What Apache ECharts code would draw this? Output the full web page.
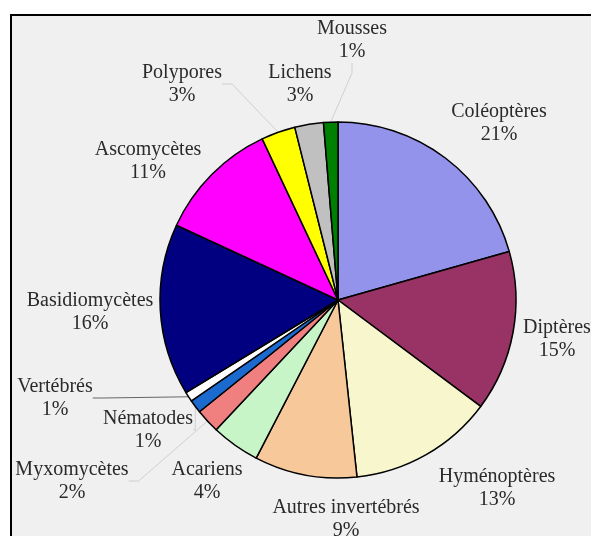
<!DOCTYPE html>
<html>
<head>
<meta charset="utf-8">
<script src="https://cdn.jsdelivr.net/npm/echarts@6/dist/echarts.min.js"></script>
<style>
html,body{margin:0;padding:0;background:#ffffff;}
#c{width:591px;height:536px;}
</style>
</head>
<body>
<div id="c"></div>
<script>
// Data (clockwise from 12 o'clock)
const categories = ['Coléoptères','Diptères','Hyménoptères','Autres invertébrés','Acariens','Myxomycètes','Nématodes','Vertébrés','Basidiomycètes','Ascomycètes','Polypores','Lichens','Mousses'];
const values = [20.6, 14.6, 13.1, 9.3, 4.4, 2.2, 1.2, 0.9, 15.6, 11.1, 3.1, 2.6, 1.3];

// Styling (kept separate from data)
const colors = ['#9393ec','#993366','#f8f6cc','#f7c89a','#c8f5c8','#f08080','#1a6ad0','#ffffff','#000080','#ff00ff','#ffff00','#c0c0c0','#008000'];
const labelCenters = [[499,123],[557,339],[497,488],[346,519],[207,481],[72,481],[148,430],[55,398],[90,312],[148,161],[182,84],[300,84],[352,40]];
const leaderStyle = {7:{color:'#666666',width:1}, 5:{color:'#d0d0d0',width:1}, 6:{color:'#d0d0d0',width:1}, 10:{color:'#d0d0d0',width:1}, 12:{color:'#d0d0d0',width:1}};

const total = values.reduce((a,b)=>a+b,0);
const seriesData = categories.map((n,i)=>{
  const item = {name:n, value:values[i], itemStyle:{color:colors[i]}};
  if (leaderStyle[i]) {
    item.labelLine = {show:true, lineStyle:{color:leaderStyle[i].color, width:leaderStyle[i].width}};
  }
  return item;
});

const chart = echarts.init(document.getElementById('c'), null, {renderer:'canvas'});
chart.setOption({
  animation:false,
  backgroundColor:'#ffffff',
  graphic:[{
    type:'rect', z:-10, silent:true,
    shape:{x:11, y:15, width:620, height:560},
    style:{fill:'#f0f0f0', stroke:'#000000', lineWidth:2}
  }],
  series:[{
    type:'pie',
    center:[338,300],
    radius:[0,178],
    startAngle:90,
    clockwise:true,
    avoidLabelOverlap:false,
    data:seriesData,
    itemStyle:{borderColor:'#000000', borderWidth:1.5},
    label:{
      show:true,
      position:'outside',
      fontFamily:'Liberation Serif, DejaVu Serif, serif',
      fontSize:20,
      lineHeight:23,
      color:'#2a2a2a',
      align:'center',
      formatter:function(p){ return p.name + '\n' + Math.round(p.value/total*100) + '%'; }
    },
    labelLine:{show:false, length:10, length2:10},
    labelLayout:function(params){
      const c = labelCenters[params.dataIndex];
      return {x:c[0], y:c[1], align:'center', verticalAlign:'middle'};
    },
    emphasis:{disabled:true}
  }]
});
</script>
</body>
</html>
